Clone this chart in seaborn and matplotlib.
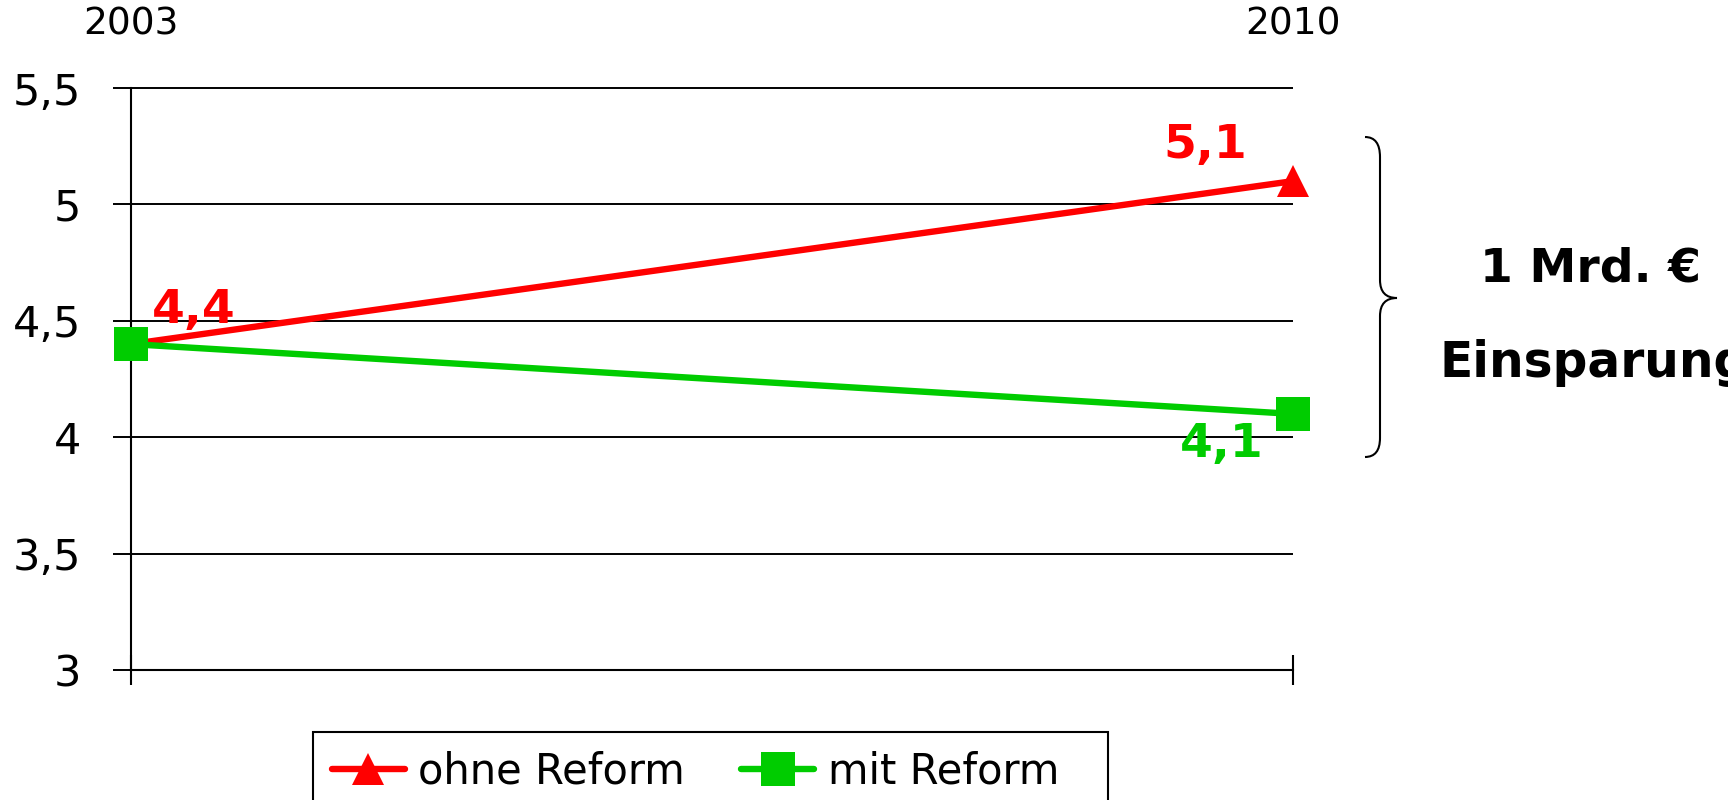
import numpy as np
import pandas as pd
import seaborn as sns
import matplotlib
matplotlib.use("Agg")
import matplotlib.pyplot as plt
from matplotlib.path import Path
from matplotlib.patches import PathPatch, Rectangle

# ---- data ----
years = ["2003", "2010"]
series_names = ["ohne Reform", "mit Reform"]
ohne_reform = [4.4, 5.1]
mit_reform = [4.4, 4.1]
y_ticks = [3, 3.5, 4, 4.5, 5, 5.5]
y_tick_labels = ["3", "3,5", "4", "4,5", "5", "5,5"]
note_lines = ["1 Mrd. €", "Einsparung"]

RED = "#FF0000"
GREEN = "#00CC00"

sns.set_style("white")
plt.rcParams["font.family"] = ["DejaVu Sans"]
plt.rcParams["text.color"] = "black"
plt.rcParams["xtick.color"] = "black"
plt.rcParams["ytick.color"] = "black"
plt.rcParams["axes.labelcolor"] = "black"

W, H = 1728, 800
fig = plt.figure(figsize=(W / 100, H / 100), dpi=100)
ax = fig.add_axes([131 / W, 1 - 670 / H, (1293 - 131) / W, (670 - 88) / H])

pos = list(range(len(years)))
df = pd.DataFrame({
    "pos": pos + pos,
    "value": ohne_reform + mit_reform,
    "series": [series_names[0]] * len(years) + [series_names[1]] * len(years),
})

# gridlines (drawn below data)
ax.hlines([t for t in y_ticks if t > y_ticks[0]], 0, pos[-1], color="black",
          lw=1.4, zorder=1, clip_on=False)

sns.lineplot(data=df, x="pos", y="value", hue="series", style="series",
             markers={series_names[0]: "^", series_names[1]: "s"}, dashes=False,
             palette={series_names[0]: RED, series_names[1]: GREEN},
             linewidth=4.6, markeredgewidth=0, ax=ax, zorder=5)
for line in ax.lines:
    line.set_clip_on(False)
    if line.get_marker() == "^":
        line.set_markersize(23)
    elif line.get_marker() == "s":
        line.set_markersize(24)

handles, labels = ax.get_legend_handles_labels()
if ax.get_legend() is not None:
    ax.get_legend().remove()
for h in handles:
    h.set_linewidth(4.6)
    h.set_markeredgewidth(0)
    if h.get_marker() == "^":
        h.set_markersize(23)
    elif h.get_marker() == "s":
        h.set_markersize(24)

# axes styling
ax.set_xlim(pos[0], pos[-1])
ax.set_ylim(y_ticks[0], y_ticks[-1])
ax.set_yticks(y_ticks, y_tick_labels)
ax.set_xticks([pos[0], pos[-1]])
ax.tick_params(axis="y", direction="out", length=13, width=1.4, pad=23,
               labelsize=31, color="black", left=True)
ax.tick_params(axis="x", direction="inout", length=21, width=1.5,
               labelbottom=False, bottom=True, color="black")
ax.set_xlabel("")
ax.set_ylabel("")
for s in ["top", "right"]:
    ax.spines[s].set_visible(False)
for s in ["left", "bottom"]:
    ax.spines[s].set_color("black")
    ax.spines[s].set_linewidth(1.5)

secax = ax.secondary_xaxis("top")
secax.set_xticks(pos, years)
secax.tick_params(length=0, pad=33, labelsize=27, labelcolor="black")
secax.spines["top"].set_visible(False)

# value labels
def fmt(v):
    return f"{v:.1f}".replace(".", ",")

ax.annotate(fmt(ohne_reform[0]), xy=(pos[0], ohne_reform[0]), xytext=(15, 15),
            textcoords="offset points", ha="left", va="baseline", color=RED,
            fontsize=34, fontweight="bold", zorder=6)
ax.annotate(fmt(ohne_reform[1]), xy=(pos[1], ohne_reform[1]), xytext=(-33, 17),
            textcoords="offset points", ha="right", va="baseline", color=RED,
            fontsize=34, fontweight="bold", zorder=6)
ax.annotate(fmt(mit_reform[1]), xy=(pos[1], mit_reform[1]), xytext=(-21, -31),
            textcoords="offset points", ha="right", va="baseline", color=GREEN,
            fontsize=34, fontweight="bold", zorder=4)

# brace
def P(x, y):
    return (x / W, 1 - y / H)

verts = [P(1365, 137), P(1380, 137), P(1380, 157), P(1380, 280),
         P(1380, 298), P(1397, 298), P(1380, 298), P(1380, 316),
         P(1380, 438), P(1380, 457), P(1365, 457)]
codes = [Path.MOVETO, Path.CURVE3, Path.CURVE3, Path.LINETO,
         Path.CURVE3, Path.CURVE3, Path.CURVE3, Path.CURVE3,
         Path.LINETO, Path.CURVE3, Path.CURVE3]
fig.patches.append(PathPatch(Path(verts, codes), transform=fig.transFigure,
                             fill=False, edgecolor="black", lw=1.5))

fig.text(1590 / W, 1 - 281 / H, note_lines[0], ha="center", va="baseline",
         fontsize=34, fontweight="bold", color="black")
fig.text(1440 / W, 1 - 377 / H, note_lines[1], ha="left", va="baseline",
         fontsize=35, fontweight="bold", color="black")

leg = fig.legend(handles, labels, loc="upper left",
                 bbox_to_anchor=(313 / W, 1 - 732 / H), ncol=2, frameon=False,
                 fontsize=30, handlelength=1.75, borderaxespad=0,
                 borderpad=0.45, handletextpad=0.33, columnspacing=1.35)
for t in leg.get_texts():
    t.set_color("black")
# legend box (wider than its content, as in the original)
fig.patches.append(Rectangle((313 / W, -20 / H), (1108 - 313) / W,
                             (800 - 732 + 20) / H, transform=fig.transFigure,
                             fill=False, edgecolor="black", lw=1.5))

fig.savefig("out.png", dpi=100)
